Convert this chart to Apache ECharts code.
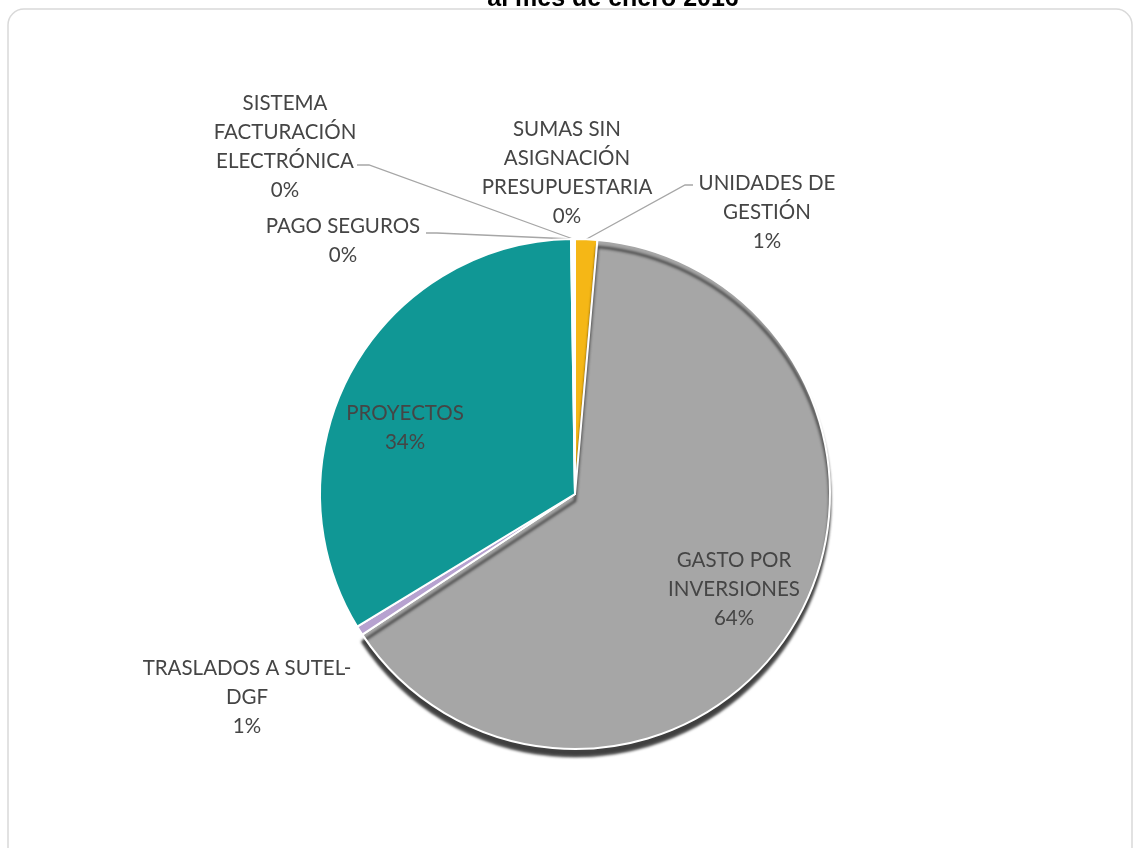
<!DOCTYPE html>
<html>
<head>
<meta charset="utf-8">
<script src="https://cdn.jsdelivr.net/npm/echarts@6/dist/echarts.min.js"></script>
<style>
html,body{margin:0;padding:0;background:#fff;}
#chart{width:1135px;height:848px;}
</style>
</head>
<body>
<div id="chart"></div>
<script>
// ---- data ----
const titleText = 'al mes de enero 2016';
const categories = [
  'UNIDADES DE GESTIÓN',
  'GASTO POR INVERSIONES',
  'TRASLADOS A SUTEL-DGF',
  'PROYECTOS',
  'PAGO SEGUROS',
  'SISTEMA FACTURACIÓN ELECTRÓNICA',
  'SUMAS SIN ASIGNACIÓN PRESUPUESTARIA'
];
const wrappedNames = [
  'UNIDADES DE\nGESTIÓN',
  'GASTO POR\nINVERSIONES',
  'TRASLADOS A SUTEL-\nDGF',
  'PROYECTOS',
  'PAGO SEGUROS',
  'SISTEMA\nFACTURACIÓN\nELECTRÓNICA',
  'SUMAS SIN\nASIGNACIÓN\nPRESUPUESTARIA'
];
const values = [1.4, 64.3, 0.6, 33.45, 0.1, 0.05, 0.1];
const colors = ['#f5b716', '#a6a6a6', '#b7a2d0', '#109795', '#4a7ebb', '#e07b39', '#7f7f7f'];

// ---- label placement (styling) ----
const labelPos = [
  {x: 767, y: 212}, {x: 734, y: 589}, {x: 247, y: 697}, {x: 405, y: 428},
  {x: 343, y: 241}, {x: 285, y: 147}, {x: 567, y: 173}
];
const linePts = {
  0: [[685, 185], [693, 185]],
  4: [[437, 233], [426, 233]],
  5: [[369, 165], [357, 165]]
};

const chart = echarts.init(document.getElementById('chart'));
const data = categories.map((c, i) => {
  const item = {
    name: c,
    value: values[i],
    itemStyle: {color: colors[i]},
    label: {position: (i === 1 || i === 3) ? 'inside' : 'outside'},
    labelLine: {show: !!linePts[i]}
  };
  if (i === 1) {
    item.itemStyle.shadowColor = 'rgba(0,0,0,0.75)';
    item.itemStyle.shadowBlur = 3;
    item.itemStyle.shadowOffsetX = 0;
    item.itemStyle.shadowOffsetY = 7;
  }
  return item;
});

chart.setOption({
  backgroundColor: '#ffffff',
  animation: false,
  graphic: [
    {
      type: 'rect', silent: true,
      shape: {x: 8, y: 9, width: 1124, height: 880, r: 16},
      style: {fill: 'none', stroke: '#d9d9d9', lineWidth: 1.5}
    },
    {
      type: 'text', silent: true, x: 613, y: 12,
      style: {
        text: titleText, fill: '#000', align: 'center', verticalAlign: 'bottom',
        font: 'bold 25px "Liberation Sans", Arial, sans-serif'
      }
    }
  ],
  series: [{
    type: 'pie',
    center: [575, 494],
    radius: 255,
    startAngle: 90,
    clockwise: true,
    percentPrecision: 0,
    avoidLabelOverlap: false,
    data: data,
    itemStyle: {borderColor: '#ffffff', borderWidth: 2},
    label: {
      show: true,
      formatter: p => wrappedNames[p.dataIndex] + '\n' + p.percent + '%',
      fontFamily: 'Lato, "Open Sans", sans-serif',
      fontSize: 20.5,
      lineHeight: 29,
      color: '#454545',
      align: 'center'
    },
    labelLine: {
      show: true,
      length: 10, length2: 10,
      lineStyle: {color: '#a6a6a6', width: 1.3}
    },
    labelLayout: function (params) {
      const i = params.dataIndex;
      const pos = labelPos[i];
      const res = {x: pos.x, y: pos.y, align: 'center', verticalAlign: 'middle'};
      if (linePts[i] && params.labelLinePoints) {
        const start = params.labelLinePoints[0];
        res.labelLinePoints = [start, linePts[i][0], linePts[i][1]];
      }
      return res;
    }
  }]
});
</script>
</body>
</html>
